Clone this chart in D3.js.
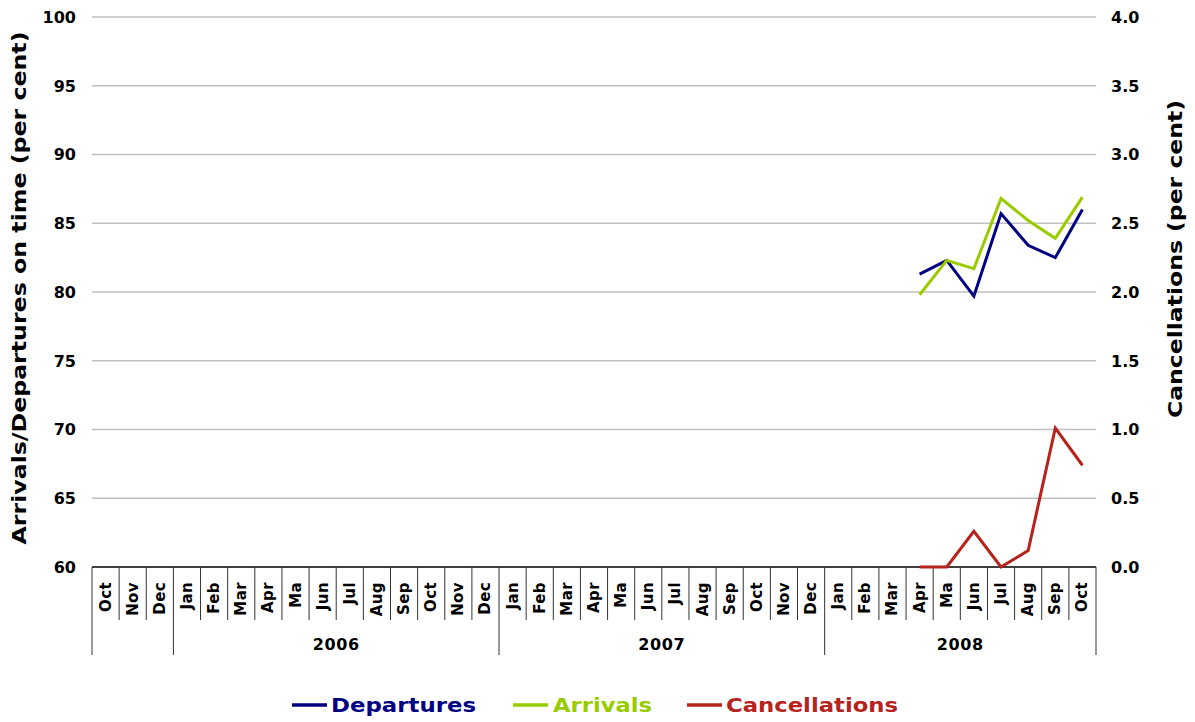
<!DOCTYPE html>
<html>
<head>
<meta charset="utf-8">
<script src="https://cdn.jsdelivr.net/npm/d3@7"></script>
<style>
  body { margin: 0; background: #fff; }
  svg { font-family: "DejaVu Sans", Verdana, sans-serif; font-weight: bold; }
</style>
</head>
<body>
<div id="chart"></div>
<script>
// Size of the drawing and the plot area inside it
const w = 1195;
const h = 722;
const plotLeft = 92, plotRight = 1096, plotTop = 17, plotBottom = 567;

// Category axis: months grouped by year (first group has no year label)
const yearLabels = ["", "2006", "2007", "2008"];
const yearMonths = [
  ["Oct", "Nov", "Dec"],
  ["Jan", "Feb", "Mar", "Apr", "Ma", "Jun", "Jul", "Aug", "Sep", "Oct", "Nov", "Dec"],
  ["Jan", "Feb", "Mar", "Apr", "Ma", "Jun", "Jul", "Aug", "Sep", "Oct", "Nov", "Dec"],
  ["Jan", "Feb", "Mar", "Apr", "Ma", "Jun", "Jul", "Aug", "Sep", "Oct"]
];

// Series (only Apr–Oct 2008 have values)
const seriesMonths = ["2008-Apr", "2008-Ma", "2008-Jun", "2008-Jul", "2008-Aug", "2008-Sep", "2008-Oct"];
const departures = [81.3, 82.3, 79.7, 85.7, 83.4, 82.5, 86.0];
const arrivals = [79.8, 82.3, 81.7, 86.8, 85.2, 83.9, 86.9];
const cancellations = [0.0, 0.0, 0.26, 0.0, 0.12, 1.01, 0.74];

// Tick labels
const leftTicks = [60, 65, 70, 75, 80, 85, 90, 95, 100];
const rightTicks = [0, 0.5, 1.0, 1.5, 2.0, 2.5, 3.0, 3.5, 4.0];

// Build the list of category keys
const categories = [];
yearMonths.forEach((months, i) => {
  months.forEach(m => categories.push({ key: (yearLabels[i] || "2005") + "-" + m, month: m, group: i }));
});

const svg = d3.select("#chart").append("svg")
  .attr("width", w)
  .attr("height", h);

const xScale = d3.scaleBand()
  .domain(categories.map(d => d.key))
  .range([plotLeft, plotRight])
  .padding(0);

const yLeft = d3.scaleLinear().domain([60, 100]).range([plotBottom, plotTop]);
const yRight = d3.scaleLinear().domain([0, 4]).range([plotBottom, plotTop]);

const xc = k => xScale(k) + xScale.bandwidth() / 2;

// Gridlines
svg.append("g")
  .selectAll("line")
  .data(leftTicks.filter(t => t !== 60))
  .enter()
  .append("line")
  .attr("x1", plotLeft)
  .attr("x2", plotRight)
  .attr("y1", d => yLeft(d))
  .attr("y2", d => yLeft(d))
  .attr("stroke", "#c0c0c0")
  .attr("stroke-width", 1.5);

// Left axis labels
svg.append("g")
  .selectAll("text")
  .data(leftTicks)
  .enter()
  .append("text")
  .attr("x", 76)
  .attr("y", d => yLeft(d))
  .attr("dy", "0.36em")
  .attr("text-anchor", "end")
  .style("font-size", "16px")
  .text(d => d);

// Right axis labels
svg.append("g")
  .selectAll("text")
  .data(rightTicks)
  .enter()
  .append("text")
  .attr("x", 1111)
  .attr("y", d => yRight(d))
  .attr("dy", "0.36em")
  .attr("text-anchor", "start")
  .style("font-size", "16px")
  .text(d => d.toFixed(1));

// Axis titles
svg.append("text")
  .attr("transform", "translate(26,288) rotate(-90)")
  .attr("text-anchor", "middle")
  .attr("textLength", 513)
  .attr("lengthAdjust", "spacingAndGlyphs")
  .style("font-size", "20px")
  .text("Arrivals/Departures on time (per cent)");

svg.append("text")
  .attr("transform", "translate(1182,259) rotate(-90)")
  .attr("text-anchor", "middle")
  .attr("textLength", 318)
  .attr("lengthAdjust", "spacingAndGlyphs")
  .style("font-size", "20px")
  .text("Cancellations (per cent)");

// Category axis: baseline, month separators, group separators
const axis = svg.append("g").attr("stroke", "#000");

axis.append("line")
  .attr("x1", plotLeft).attr("x2", plotRight)
  .attr("y1", plotBottom).attr("y2", plotBottom)
  .attr("stroke-width", 1.5);

const boundaries = d3.range(categories.length + 1);
const groupStarts = [0];
yearMonths.forEach(m => groupStarts.push(groupStarts[groupStarts.length - 1] + m.length));
const bx = i => (i < categories.length ? xScale(categories[i].key) : plotRight);

axis.selectAll(".sep")
  .data(boundaries)
  .enter()
  .append("line")
  .attr("x1", bx).attr("x2", bx)
  .attr("y1", plotBottom)
  .attr("y2", i => groupStarts.includes(i) ? 655 : 620)
  .attr("stroke", "#333")
  .attr("stroke-width", 1);

// Month labels (rotated)
svg.append("g")
  .selectAll("text")
  .data(categories)
  .enter()
  .append("text")
  .attr("transform", d => `translate(${xc(d.key) + 5},582) rotate(-90)`)
  .attr("text-anchor", "end")
  .style("font-size", "15px")
  .style("letter-spacing", "0.4px")
  .text(d => d.month);

// Year labels
svg.append("g")
  .selectAll("text")
  .data(yearLabels)
  .enter()
  .append("text")
  .attr("x", (d, i) => (bx(groupStarts[i]) + bx(groupStarts[i + 1])) / 2)
  .attr("y", 650)
  .attr("text-anchor", "middle")
  .style("font-size", "16px")
  .style("letter-spacing", "0.6px")
  .text(d => d);

// Lines
const series = [
  { name: "Departures", values: departures, scale: yLeft, color: "#000080" },
  { name: "Arrivals", values: arrivals, scale: yLeft, color: "#99cc00" },
  { name: "Cancellations", values: cancellations, scale: yRight, color: "#b5231c" }
];

series.forEach(s => {
  const line = d3.line()
    .x((d, i) => xc(seriesMonths[i]))
    .y(d => s.scale(d));
  svg.append("path")
    .datum(s.values)
    .attr("d", line)
    .attr("fill", "none")
    .attr("stroke", s.color)
    .attr("stroke-width", 3);
});

// Legend
const legendX = [292, 513, 687];
const legendTextW = [145, 99, 172];
const legend = svg.append("g")
  .selectAll("g")
  .data(series)
  .enter()
  .append("g")
  .attr("transform", (d, i) => `translate(${legendX[i]},705)`);

legend.append("line")
  .attr("x1", 0).attr("x2", (d, i) => i === 2 ? 35 : 35)
  .attr("stroke", d => d.color)
  .attr("stroke-width", 3.5);

legend.append("text")
  .attr("x", (d, i) => i === 1 ? 40 : 39)
  .attr("dy", "0.36em")
  .attr("fill", d => d.color)
  .attr("textLength", (d, i) => legendTextW[i])
  .attr("lengthAdjust", "spacingAndGlyphs")
  .style("font-size", "20px")
  .text(d => d.name);
</script>
</body>
</html>
